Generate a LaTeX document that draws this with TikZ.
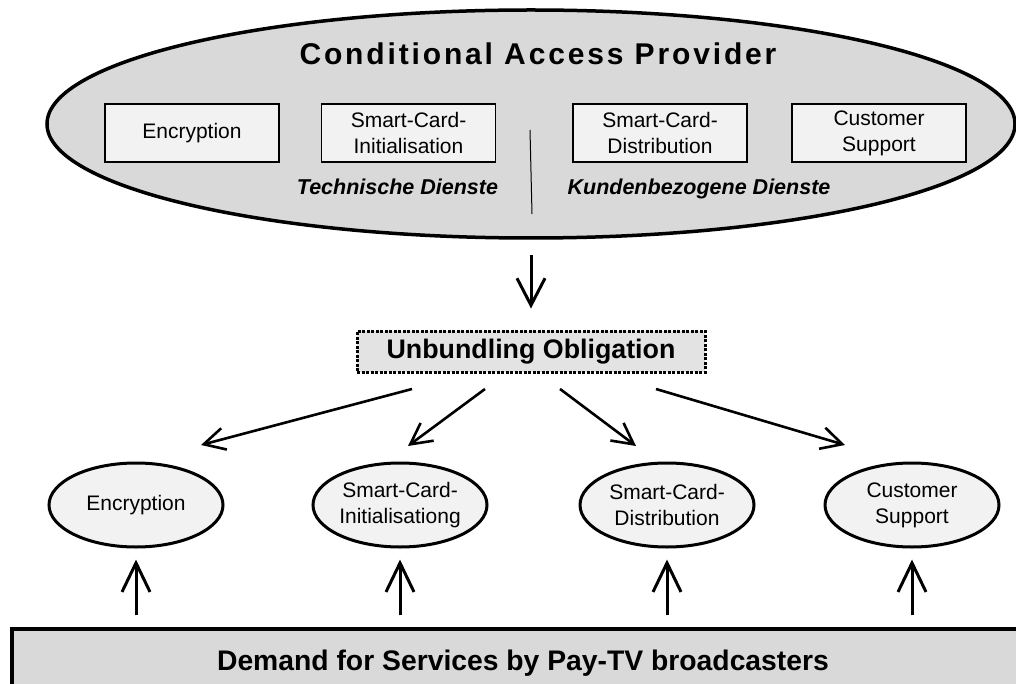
\documentclass[tikz,border=0pt]{standalone}
\usepackage{fontspec}
\setmainfont{Liberation Sans}
\newfontfamily\titlefont[LetterSpace=9.5]{Liberation Sans}
\usetikzlibrary{arrows.meta,shapes.geometric}
\definecolor{cagray}{HTML}{D9D9D9}
\definecolor{boxfill}{HTML}{F2F2F2}
\definecolor{ubfill}{HTML}{E3E3E3}
\begin{document}
\begin{tikzpicture}[x=1pt,y=-1pt,
  svcbox/.style={draw, line width=1.3pt, fill=boxfill, minimum width=174pt, minimum height=58pt, inner sep=0pt, align=center, font=\fontsize{21}{26}\selectfont},
  svcell/.style={ellipse, draw, line width=3pt, fill=boxfill, minimum width=174pt, minimum height=84pt, inner sep=0pt, align=center, font=\fontsize{21}{26}\selectfont},
  bigarrow/.style={line width=3pt, -{Straight Barb[length=27pt,width=28pt]}},
  diagarrow/.style={line width=2.6pt, -{Straight Barb[length=21pt,width=22pt]}},
  grouplabel/.style={anchor=base, font=\fontsize{21.5}{26}\selectfont\bfseries\itshape},
]
\useasboundingbox (0,0) rectangle (1016,684);
\fill[white] (0,0) rectangle (1016,684);

% top ellipse
\node[ellipse, draw, line width=3.5pt, fill=cagray, minimum width=968pt, minimum height=228pt, inner sep=0pt] (cap) at (531,124) {};
\node[font=\fontsize{30}{36}\titlefont\bfseries] (title) at (538,54) {Conditional Access Provider};

\node[svcbox] (b1) at (192,133) {Encryption};
\node[svcbox] (b2) at (408.5,133) {Smart-Card-\\Initialisation};
\node[svcbox] (b3) at (660,133) {Smart-Card-\\Distribution};
\node[svcbox] (b4) at (879,133) {Customer\\Support};

\draw[line width=1pt] (530,130) -- (532,214);

\node[grouplabel] (tech) at (397.5,195) {Technische Dienste};
\node[grouplabel] (kund) at (699,195) {Kundenbezogene Dienste};

% unbundling
\node[draw, line width=3pt, dash pattern=on 3pt off 1.5pt, fill=ubfill, minimum width=348pt, minimum height=41pt, inner sep=0pt, font=\fontsize{26.8}{30}\selectfont\bfseries] (ub) at (531,351.5) {Unbundling Obligation};

\draw[bigarrow, shorten <=15pt, shorten >=21pt] (cap.south) -- (ub.north);

% bottom ellipses
\node[svcell] (e1) at (136,505) {Encryption};
\node[svcell] (e2) at (400,505) {Smart-Card-\\Initialisationg};
\node[svcell] (e3) at (667,505) {Smart-Card-\\Distribution};
\node[svcell] (e4) at (912,505) {Customer\\Support};

\coordinate (d1s) at (412,389);
\coordinate (d1e) at (201,445);
\coordinate (d2s) at (485,389);
\coordinate (d2e) at (408,446);
\coordinate (d3s) at (560,389);
\coordinate (d3e) at (636,446);
\coordinate (d4s) at (656,389);
\coordinate (d4e) at (845,445);
\draw[diagarrow] (d1s) -- (d1e);
\draw[diagarrow] (d2s) -- (d2e);
\draw[diagarrow] (d3s) -- (d3e);
\draw[diagarrow] (d4s) -- (d4e);

% demand
\node[draw, line width=3.5pt, fill=cagray, minimum width=1022pt, minimum height=68pt, inner sep=0pt, font=\fontsize{28.3}{32}\selectfont\bfseries] (dem) at (523,663) {Demand for Services by Pay-TV broadcasters};

\foreach \e in {e1,e2,e3,e4}{
  \draw[line width=3pt, -{Straight Barb[length=29pt,width=28pt]}, shorten <=12pt, shorten >=11pt] (\e.south |- dem.north) -- (\e.south);
}
\end{tikzpicture}
\end{document}
